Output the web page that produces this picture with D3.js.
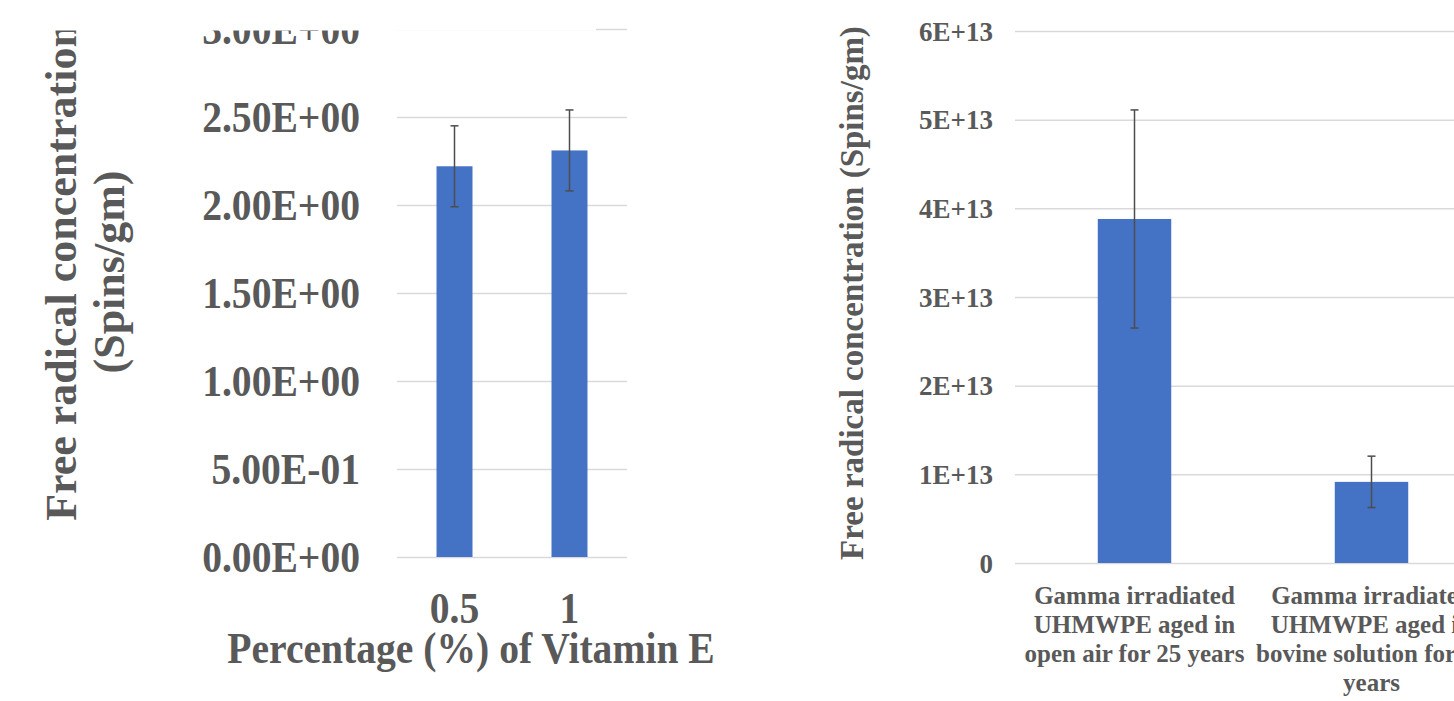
<!DOCTYPE html>
<html><head><meta charset="utf-8">
<script src="https://cdn.jsdelivr.net/npm/d3@7"></script>
<style>html,body{margin:0;padding:0;background:#fff;overflow:hidden}</style>
</head><body>
<svg id="c" width="1454" height="701"></svg>
<script>
// ---- Data (left panel) ----
const leftCategories = ["0.5", "1"];
const leftValues = [2.22, 2.31];
const leftErrors = [0.23, 0.23];
const leftTicks = [0, 0.5, 1, 1.5, 2, 2.5, 3];
const leftTickLabels = ["0.00E+00", "5.00E-01", "1.00E+00", "1.50E+00", "2.00E+00", "2.50E+00", "3.00E+00"];
const leftXTitle = "Percentage (%) of Vitamin E";
const leftYTitle = ["Free radical concentration", "(Spins/gm)"];

// ---- Data (right panel) ----
const rightCategories = [
  "Gamma irradiated UHMWPE aged in open air for 25 years",
  "Gamma irradiated UHMWPE aged in bovine solution for 25 years"
];
const rightLabelLines = [
  ["Gamma irradiated", "UHMWPE aged in", "open air for 25 years"],
  ["Gamma irradiated", "UHMWPE aged in", "bovine solution for 25", "years"]
];
const rightValues = [3.88e13, 0.915e13];
const rightErrors = [1.23e13, 0.29e13];
const rightTicks = [0, 1e13, 2e13, 3e13, 4e13, 5e13, 6e13];
const rightTickLabels = ["0", "1E+13", "2E+13", "3E+13", "4E+13", "5E+13", "6E+13"];
const rightYTitle = "Free radical concentration (Spins/gm)";

// ---- Style ----
const font = "'Liberation Serif','Times New Roman',serif";
const textColor = "#595959";
const gridColor = "#d9d9d9";
const barColor = "#4472c4";
const errColor = "#4d4d4d";
const sx = 0.9; // horizontal squeeze of the left panel text

const svg = d3.select("#c");

function styleText(sel, size) {
  sel.attr("font-family", font).attr("font-weight", "bold")
     .attr("font-size", size).attr("fill", textColor);
}

// ================= LEFT PANEL =================
const L = { x0: 397, x1: 627, y0: 557, y1: 29 };
const ly = d3.scaleLinear().domain([0, 3]).range([L.y0, L.y1]);
const lx = d3.scaleBand().domain(leftCategories).range([L.x0, L.x1])
  .paddingInner(0.687).paddingOuter(0.3435);
const gL = svg.append("g");

gL.append("g").attr("transform", `translate(${L.x0},0)`)
  .call(d3.axisLeft(ly).tickValues(leftTicks).tickSize(-(L.x1 - L.x0))
        .tickFormat((d, i) => leftTickLabels[i]))
  .call(g => g.select(".domain").remove())
  .call(g => g.selectAll("line").attr("stroke", gridColor).attr("stroke-width", 1.5))
  .call(g => g.selectAll("text").attr("x", -37 / sx).attr("dy", "0.34em")
        .attr("transform", `scale(${sx},1)`).call(styleText, 44));

gL.selectAll("rect.bar").data(leftValues).join("rect").attr("class", "bar")
  .attr("x", (d, i) => lx(leftCategories[i]))
  .attr("width", lx.bandwidth())
  .attr("y", d => ly(d))
  .attr("height", d => ly(0) - ly(d))
  .attr("fill", barColor);

function errorBars(g, xs, ys, cats, vals, errs, cap) {
  const eg = g.append("g").attr("stroke", errColor).attr("stroke-width", 1.5);
  vals.forEach((v, i) => {
    const cx = xs(cats[i]) + xs.bandwidth() / 2;
    eg.append("line").attr("x1", cx).attr("x2", cx)
      .attr("y1", ys(v - errs[i])).attr("y2", ys(v + errs[i]));
    [v - errs[i], v + errs[i]].forEach(e => {
      eg.append("line").attr("x1", cx - cap).attr("x2", cx + cap)
        .attr("y1", ys(e)).attr("y2", ys(e));
    });
  });
}
errorBars(gL, lx, ly, leftCategories, leftValues, leftErrors, 4);

gL.append("g").attr("transform", `translate(0,${L.y0})`)
  .call(d3.axisBottom(lx).tickSize(0))
  .call(g => g.select(".domain").remove())
  .call(g => g.selectAll("text").attr("y", 66).attr("dy", 0)
        .attr("transform", `scale(${sx},1)`).call(styleText, 44));

gL.append("text").attr("transform", `translate(471,663) scale(${sx},1)`)
  .attr("text-anchor", "middle").text(leftXTitle).call(styleText, 44);

leftYTitle.forEach((t, i) => {
  gL.append("text").attr("transform", `translate(${76 + i * 48},272) rotate(-90)`)
    .attr("text-anchor", "middle").text(t).call(styleText, 44);
});

// crop mask at the top of the left panel
svg.append("rect").attr("x", 0).attr("y", 0).attr("width", 596).attr("height", 30.5).attr("fill", "#fff");

// ================= RIGHT PANEL =================
const R = { x0: 1015, x1: 1454, y0: 563, y1: 31 };
const ry = d3.scaleLinear().domain([0, 6e13]).range([R.y0, R.y1]);
const rx = d3.scaleBand().domain(rightCategories).range([1016, 1016 + 2 * 237])
  .paddingInner(0.69).paddingOuter(0.345);
const gR = svg.append("g");

gR.append("g").attr("transform", `translate(${R.x0},0)`)
  .call(d3.axisLeft(ry).tickValues(rightTicks).tickSize(-(R.x1 - R.x0))
        .tickFormat((d, i) => rightTickLabels[i]))
  .call(g => g.select(".domain").remove())
  .call(g => g.selectAll("line").attr("stroke", gridColor).attr("stroke-width", 1.5))
  .call(g => g.selectAll("text").attr("x", -22).attr("dy", "0.34em").call(styleText, 27));

gR.selectAll("rect.bar").data(rightValues).join("rect").attr("class", "bar")
  .attr("x", (d, i) => rx(rightCategories[i]))
  .attr("width", rx.bandwidth())
  .attr("y", d => ry(d))
  .attr("height", d => ry(0) - ry(d))
  .attr("fill", barColor);

errorBars(gR, rx, ry, rightCategories, rightValues, rightErrors, 4);

gR.append("g").attr("transform", `translate(0,${R.y0})`)
  .call(d3.axisBottom(rx).tickSize(0).tickFormat(() => ""))
  .call(g => g.select(".domain").remove())
  .call(g => g.selectAll(".tick").each(function(d, i) {
      const t = d3.select(this).select("text").attr("y", 41).attr("dy", 0).call(styleText, 25);
      rightLabelLines[i].forEach((line, j) => {
        t.append("tspan").attr("x", 0).attr("dy", j === 0 ? 0 : 29).text(line);
      });
  }));

gR.append("text").attr("transform", "translate(863,293) rotate(-90)")
  .attr("text-anchor", "middle").text(rightYTitle).call(styleText, 33);
</script>
</body></html>
